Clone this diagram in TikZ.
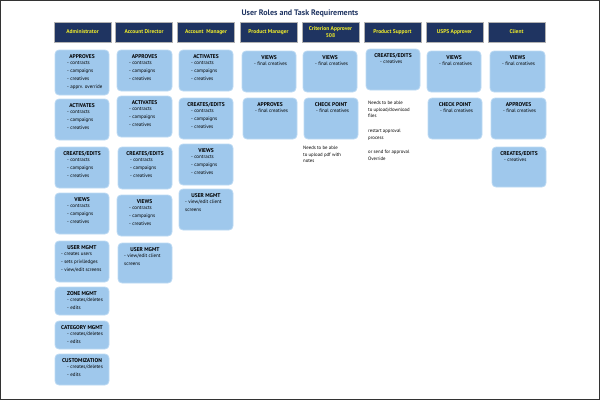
\documentclass[tikz,border=0pt]{standalone}
\usepackage{fontspec}
\setmainfont{PT Sans}
\begin{document}
\begin{tikzpicture}[x=1pt,y=-1pt,
  hdr/.style={fill=navy,draw=gray!60,line width=0.8pt,text=yel,font=\fontsize{5.5}{6.5}\selectfont\bfseries,align=center,inner sep=0},
  bx/.style={fill=boxb,draw=boxe,line width=0.8pt,rounded corners=4pt},
  ttl/.style={anchor=north,font=\fontsize{5.5}{6.5}\selectfont\bfseries,inner sep=0},
  itm/.style={anchor=north west,font=\fontsize{5}{8}\selectfont,align=left,inner sep=0},
  note/.style={anchor=north west,font=\fontsize{4.8}{6.5}\selectfont,align=left,inner sep=0}]
\definecolor{navy}{HTML}{1F3461}
\definecolor{yel}{HTML}{F2EE2A}
\definecolor{boxb}{HTML}{9FC8EC}
\definecolor{boxe}{HTML}{BCD9F3}
\definecolor{tnavy}{HTML}{1F3461}
\useasboundingbox (0,0) rectangle (600,400);
\draw[line width=1.2pt,black!80] (0.6,0.6) rectangle (599.4,399.4);
\node[font=\fontsize{8}{9}\selectfont\bfseries,text=tnavy] (title) at (300,13) {User Roles and Task Requirements};
\newcommand{\hd}[4]{\node[hdr,minimum width=57pt,minimum height=20pt] (#1) at (#2,32) {#3\vphantom{#4}};}
\hd{h1}{82.5}{Administrator}{}
\hd{h2}{144}{Account Director}{}
\hd{h3}{206}{Account\ \ Manager}{}
\hd{h4}{268.5}{Product Manager}{}
\hd{h5}{330.5}{Criterion Approver\\508}{}
\hd{h6}{392.5}{Product Support}{}
\hd{h7}{454.5}{USPS Approver}{}
\hd{h8}{516.5}{Client}{}
% #1 name, #2 x1, #3 y1, #4 x2, #5 y2, #6 title, #7 items, #8 indent
\newcommand{\bb}[8]{%
  \draw[bx] (#2,#3) rectangle (#4,#5);
  \node[ttl] (#1t) at ({(#2+#4)/2},#3+4) {#6};
  \node[itm] (#1i) at (#2+#8,#3+11) {#7};}
\def\ccc{- contracts\\- campaigns\\- creatives}
% Administrator
\bb{a1}{55}{50}{109}{95}{APPROVES}{- contracts\\- campaigns\\- creatives\\- apprv. override}{12}
\bb{a2}{55}{99}{109}{140}{ACTIVATES}{\ccc}{12}
\bb{a3}{55}{147}{109}{188}{CREATES/EDITS}{\ccc}{12}
\bb{a4}{55}{193}{109}{234}{VIEWS}{\ccc}{12}
\bb{a5}{55}{241}{109}{282}{USER MGMT}{- creates users\\- sets privlledges\\- view/edit screens}{6}
\bb{a6}{55}{287}{109}{315}{ZONE MGMT}{- creates/deletes\\- edits}{12}
\bb{a7}{55}{321}{109}{349}{CATEGORY MGMT}{- creates/deletes\\- edits}{12}
\bb{a8}{55}{354}{109}{385}{CUSTOMIZATION}{- creates/deletes\\- edits}{12}
% Account Director
\bb{b1}{117}{50}{172}{91}{APPROVES}{\ccc}{12}
\bb{b2}{117}{96}{172}{137}{ACTIVATES}{\ccc}{12}
\bb{b3}{118}{147}{172}{189}{CREATES/EDITS}{\ccc}{12}
\bb{b4}{117}{195}{172}{236}{VIEWS}{\ccc}{12}
\bb{b5}{118}{243}{172}{283}{USER MGMT}{- view/edit client\\screens}{6}
% Account Manager
\bb{c1}{179}{50}{233}{91}{ACTIVATES}{\ccc}{12}
\bb{c2}{179}{98}{233}{139}{CREATES/EDITS}{\ccc}{12}
\bb{c3}{179}{144}{233}{185}{VIEWS}{\ccc}{12}
\bb{c4}{179}{189}{233}{230}{USER MGMT}{- view/edit client\\screens}{6}
% Product Manager
\bb{d1}{242}{51}{296}{92}{VIEWS}{- final creatives}{12}
\bb{d2}{243}{98}{297}{139}{APPROVES}{- final creatives}{12}
% Criterion
\bb{e1}{303}{51}{357}{92}{VIEWS}{- final creatives}{12}
\bb{e2}{304}{98}{358}{139}{CHECK POINT}{- final creatives}{12}
\node[note] (en) at (303,146) {Needs to be able\\to upload pdf with\\notes};
% Product Support
\bb{f1}{366}{49}{420}{90}{CREATES/EDITS}{- creatives}{14}
\node[note] (fn1) at (368,101) {Needs to be able\\to upload/download\\files};
\node[note] (fn2) at (368,129) {restart approval\\process};
\node[note] (fn3) at (368,150) {or send for approval\\Override};
% USPS
\bb{g1}{427}{51}{481}{92}{VIEWS}{- final creatives}{12}
\bb{g2}{428}{98}{482}{139}{CHECK POINT}{- final creatives}{12}
% Client
\bb{k1}{490}{51}{545}{92}{VIEWS}{- final creatives}{12}
\bb{k2}{491}{98}{546}{139}{APPROVES}{- final creatives}{12}
\bb{k3}{492}{147}{546}{187}{CREATES/EDITS}{- creatives}{12}
\end{tikzpicture}
\end{document}
